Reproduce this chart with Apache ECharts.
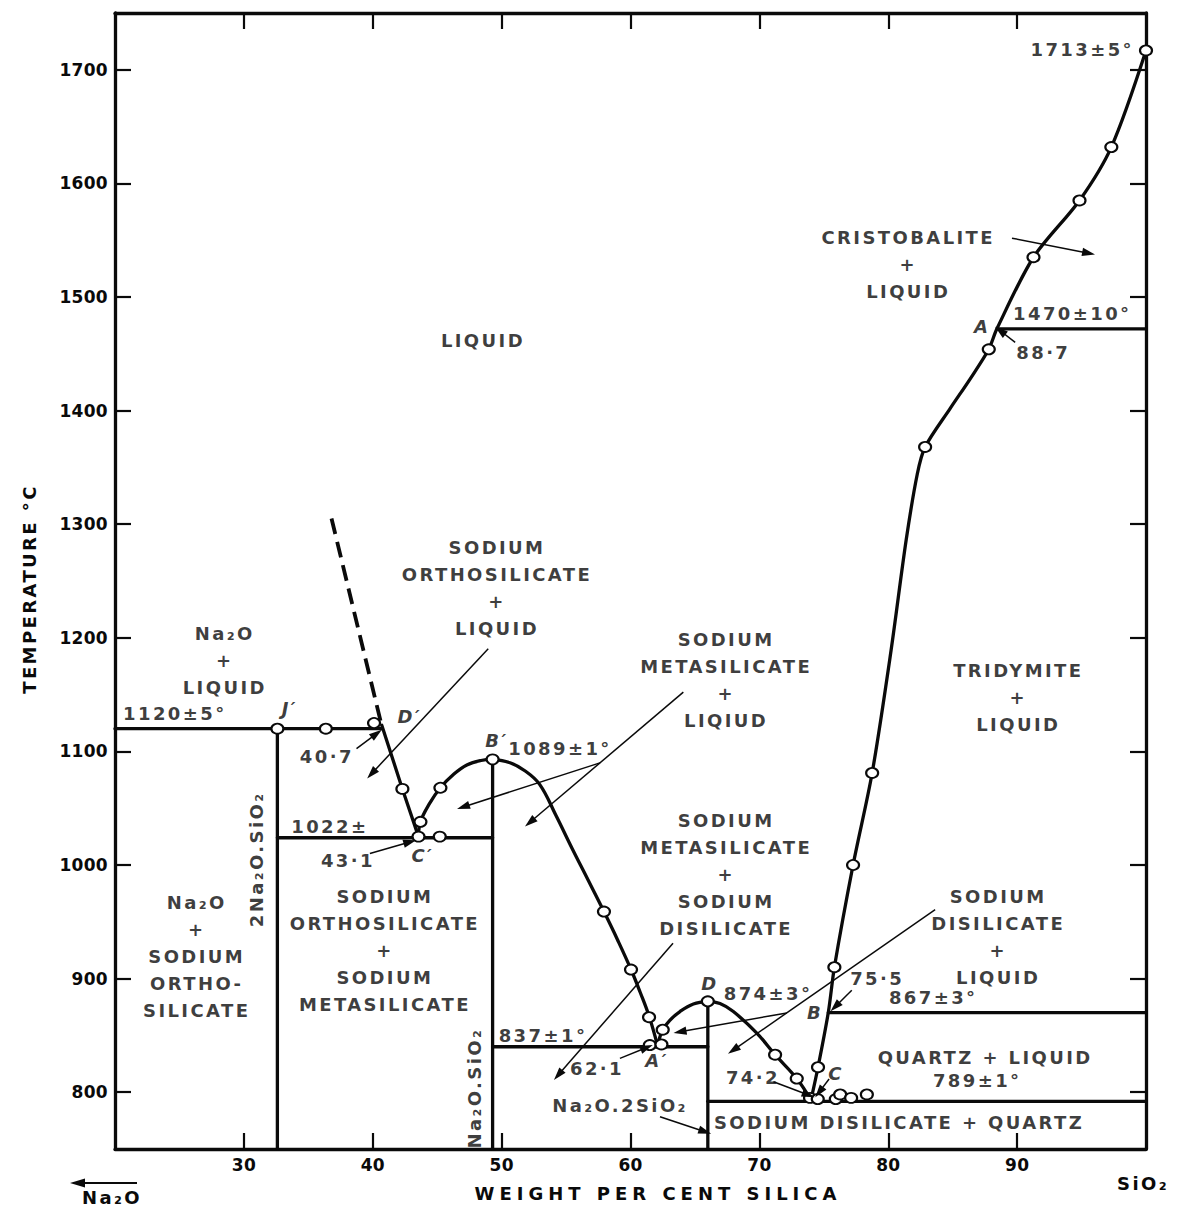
<!DOCTYPE html>
<html>
<head>
<meta charset="utf-8">
<script src="https://cdn.jsdelivr.net/npm/echarts@6/dist/echarts.min.js"></script>
<style>
html,body{margin:0;padding:0;background:#fff;}
#chart{width:1179px;height:1207px;}
</style>
</head>
<body>
<div id="chart"></div>
<script>
// ---------- axis ticks ----------
const xTicks = [30, 40, 50, 60, 70, 80, 90];
const yTicks = [800, 900, 1000, 1100, 1200, 1300, 1400, 1500, 1600, 1700];

// ---------- compound composition lines [wt% SiO2, °C] ----------
const orthosilicateLine = [[32.6, 750], [32.6, 1120]];
const metasilicateLine  = [[49.3, 750], [49.3, 1093]];
const disilicateLine    = [[66.0, 750], [66.0, 880]];

// ---------- isotherms ----------
const isotherm1120 = [[20, 1120], [40.7, 1120]];
const isotherm1022 = [[32.6, 1024], [49.3, 1024]];
const isotherm837  = [[49.3, 840], [66.0, 840]];
const isotherm867  = [[75.35, 870], [100, 870]];
const isotherm789  = [[66.0, 792], [100, 792]];
const isotherm1470 = [[88.45, 1472], [100, 1472]];

// ---------- liquidus curves ----------
const dashedLiquidus = [[36.8, 1305], [40.6, 1127]];
const orthoLiquidus = [[40.7, 1123], [42.3, 1067], [43.55, 1025]];
const metaLiquidusLow = [[43.55, 1025], [43.7, 1038], [44.4, 1054], [45.25, 1068], [46.3, 1080], [47.3, 1088], [48.4, 1092], [49.3, 1093]];
const metaLiquidusHigh = [[49.3, 1093], [50.65, 1090], [51.8, 1083], [52.95, 1071], [54.2, 1044], [55.45, 1015], [56.7, 987], [57.94, 959], [59.0, 934], [60.04, 908], [60.75, 888], [61.44, 867], [62.1, 841]];
const disilLiquidusLow = [[62.1, 841], [62.5, 855], [63.07, 863.5], [63.84, 871], [64.88, 877.6], [66.0, 880]];
const disilLiquidusHigh = [[66.0, 880], [66.94, 878], [67.98, 871], [69.8, 852], [71.22, 833], [72.9, 812], [74.0, 793]];
const silicaLiquidus = [[74.0, 793], [74.55, 822], [75.36, 871], [75.82, 910], [77.27, 1000], [78.75, 1081], [80.22, 1189], [81.39, 1286], [82.25, 1344], [82.86, 1368], [84.81, 1402], [86.36, 1428], [87.8, 1454], [88.43, 1472], [91.27, 1535], [94.84, 1585], [97.31, 1632], [100, 1717]];

// ---------- experimental points (open circles) ----------
const measuredPoints = [
  [32.6, 1120], [36.36, 1120], [40.1, 1125],
  [42.3, 1067], [43.55, 1025], [43.7, 1038], [45.2, 1025], [45.25, 1068], [49.3, 1093],
  [57.94, 959], [60.04, 908], [61.44, 866], [61.5, 841.5], [62.4, 842], [62.5, 855], [66.0, 880],
  [71.22, 833], [72.9, 812], [73.93, 795], [74.53, 794], [75.93, 794], [76.27, 798], [77.12, 795], [78.34, 798],
  [74.55, 822], [75.82, 910], [77.27, 1000], [78.75, 1081], [82.86, 1368], [87.8, 1454],
  [91.27, 1535], [94.84, 1585], [97.31, 1632], [100, 1717]
];

// ---------- leader arrows [fromX, fromT, toX, toT] ----------
const leaderArrows = [
  [38.74, 1102.4, 40.3, 1115.6],
  [39.78, 1010.1, 42.88, 1020.3],
  [48.96, 1190.4, 39.91, 1080.4],
  [64.1, 1152.2, 52.2, 1037.6],
  [57.63, 1089.9, 47.02, 1051.1],
  [63.3, 931.2, 54.39, 815.1],
  [59.18, 829.8, 61.26, 839.4],
  [83.64, 960.8, 67.98, 837.1],
  [72.13, 869.8, 63.84, 853.2],
  [77.17, 889.8, 75.88, 875.2],
  [71.09, 809.2, 73.81, 797.5],
  [75.41, 811.6, 74.64, 800.1],
  [62.29, 778.4, 65.78, 765.2],
  [89.85, 1460, 88.69, 1470.3],
  [89.6, 1551.8, 95.55, 1538.6]
];

// ---------- text annotations [x, T, text] ----------
const regionLabels = [
  [48.55, 1461.5, 'LIQUID'],
  [81.55, 1528.4, 'CRISTOBALITE\n+\nLIQUID'],
  [49.64, 1243.4, 'SODIUM\nORTHOSILICATE\n+\nLIQUID'],
  [28.52, 1180, 'Na₂O\n+\nLIQUID'],
  [67.42, 1162.5, 'SODIUM\nMETASILICATE\n+\nLIQIUD'],
  [26.34, 919.3, 'Na₂O\n+\nSODIUM\nORTHO-\nSILICATE'],
  [40.94, 925, 'SODIUM\nORTHOSILICATE\n+\nSODIUM\nMETASILICATE'],
  [67.42, 991.9, 'SODIUM\nMETASILICATE\n+\nSODIUM\nDISILICATE'],
  [90.09, 1147.1, 'TRIDYMITE\n+\nLIQUID'],
  [88.53, 936.9, 'SODIUM\nDISILICATE\n+\nLIQUID'],
  [87.52, 830.9, 'QUARTZ + LIQUID'],
  [80.84, 772.9, 'SODIUM DISILICATE + QUARTZ']
];
const valueLabels = [
  [24.64, 1133.5, '1120±5°'],
  [36.44, 1095.6, '40·7'],
  [54.53, 1102.7, '1089±1°'],
  [36.67, 1034.1, '1022±'],
  [38.07, 1004.2, '43·1'],
  [94.28, 1485.3, '1470±10°'],
  [92.03, 1451, '88·7'],
  [95.05, 1718.3, '1713±5°'],
  [83.49, 883.7, '867±3°'],
  [79.14, 900.4, '75·5'],
  [86.9, 810.7, '789±1°'],
  [69.5, 813.3, '74·2'],
  [70.67, 887.2, '874±3°'],
  [53.21, 850.3, '837±1°'],
  [57.4, 821.2, '62·1'],
  [59.19, 788.7, 'Na₂O.2SiO₂']
];
const pointLabels = [
  [33.56, 1137.9, 'J′'], [42.88, 1130.9, 'D′'], [49.64, 1109.7, 'B′'], [43.89, 1008.6, 'C′'],
  [87.29, 1473.8, 'A'], [74.32, 870.5, 'B'], [75.95, 816.8, 'C'], [66.17, 896, 'D'], [62.06, 828.3, 'A′']
];
const compoundLabels = [
  [31.0, 1005, '2Na₂O.SiO₂'],
  [47.93, 803.6, 'Na₂O.SiO₂']
];

// ---------- styling & assembly ----------
const INK = '#0a0a0a';
const FONT = 'DejaVu Sans';
const ARROW = 'path://M0,0M12,13M6,0L9.8,13L2.2,13Z';

function boundary(data, extra) {
  return Object.assign({
    type: 'line', data: data, symbol: 'none', silent: true, z: 2,
    lineStyle: { color: INK, width: 3.3, cap: 'round', join: 'round' }
  }, extra || {});
}
function textSeries(items, labelExtra) {
  return {
    type: 'scatter', silent: true, z: 6,
    symbol: 'circle', symbolSize: 1, itemStyle: { color: 'rgba(0,0,0,0)' },
    data: items.map(d => ({ value: [d[0], d[1]], name: d[2] })),
    label: Object.assign({
      show: true, position: 'inside', formatter: p => p.name,
      color: INK, fontFamily: FONT, fontWeight: 'bold', fontSize: 18, lineHeight: 27,
      align: 'center', verticalAlign: 'middle'
    }, labelExtra || {})
  };
}

const axisLineStyle = { show: true, onZero: false, lineStyle: { color: INK, width: 3.3 } };
const tickStyle = { show: true, inside: true, length: 16, lineStyle: { color: INK, width: 2.2 } };
const tickText = v => String(v);

const option = {
  animation: false,
  backgroundColor: '#ffffff',
  grid: { left: 115, right: 33, top: 13, bottom: 58, outerBoundsMode: 'none' },
  xAxis: [
    { type: 'value', min: 20, max: 100, position: 'bottom',
      axisLine: axisLineStyle, splitLine: { show: false },
      axisTick: Object.assign({ customValues: xTicks }, tickStyle),
      axisLabel: { customValues: xTicks, formatter: tickText, margin: 7, color: INK, fontFamily: FONT, fontWeight: 'bold', fontSize: 17 } },
    { type: 'value', min: 20, max: 100, position: 'top',
      axisLine: axisLineStyle, splitLine: { show: false },
      axisTick: Object.assign({ customValues: xTicks }, tickStyle),
      axisLabel: { show: false } }
  ],
  yAxis: [
    { type: 'value', min: 750, max: 1750, position: 'left',
      axisLine: axisLineStyle, splitLine: { show: false },
      axisTick: Object.assign({ customValues: yTicks }, tickStyle),
      axisLabel: { customValues: yTicks, formatter: tickText, margin: 7, color: INK, fontFamily: FONT, fontWeight: 'bold', fontSize: 17 } },
    { type: 'value', min: 750, max: 1750, position: 'right',
      axisLine: axisLineStyle, splitLine: { show: false },
      axisTick: Object.assign({ customValues: yTicks }, tickStyle),
      axisLabel: { show: false } }
  ],
  graphic: [
    { type: 'text', x: 29, y: 589, rotation: Math.PI / 2,
      style: { text: 'TEMPERATURE °C', fill: INK, fontFamily: FONT, fontWeight: 'bold', fontSize: 18, align: 'center', verticalAlign: 'middle' } },
    { type: 'text', x: 658, y: 1193,
      style: { text: 'WEIGHT PER CENT SILICA', fill: INK, fontFamily: FONT, fontWeight: 'bold', fontSize: 18, align: 'center', verticalAlign: 'middle' } },
    { type: 'text', x: 112, y: 1197,
      style: { text: 'Na₂O', fill: INK, fontFamily: FONT, fontWeight: 'bold', fontSize: 18, align: 'center', verticalAlign: 'middle' } },
    { type: 'text', x: 1143, y: 1183,
      style: { text: 'SiO₂', fill: INK, fontFamily: FONT, fontWeight: 'bold', fontSize: 18, align: 'center', verticalAlign: 'middle' } },
    { type: 'line', shape: { x1: 137, y1: 1183, x2: 80, y2: 1183 }, style: { stroke: INK, lineWidth: 1.8 } },
    { type: 'polygon', shape: { points: [[70, 1183], [85, 1178.5], [85, 1187.5]] }, style: { fill: INK } }
  ],
  series: [
    boundary(orthosilicateLine), boundary(metasilicateLine), boundary(disilicateLine),
    boundary(isotherm1120), boundary(isotherm1022), boundary(isotherm837),
    boundary(isotherm867), boundary(isotherm789), boundary(isotherm1470),
    boundary(dashedLiquidus, { lineStyle: { color: INK, width: 3.8, type: [16, 8], cap: 'butt' } }),
    boundary(orthoLiquidus),
    boundary(metaLiquidusLow, { smooth: 0.4 }),
    boundary(metaLiquidusHigh, { smooth: 0.4 }),
    boundary(disilLiquidusLow, { smooth: 0.4 }),
    boundary(disilLiquidusHigh, { smooth: 0.4 }),
    boundary(silicaLiquidus, { smooth: 0.3 }),
    {
      type: 'line', data: [[20, 750]], symbol: 'none', silent: true, z: 3,
      lineStyle: { width: 0, opacity: 0 },
      markLine: {
        silent: true, animation: false,
        symbol: ['none', ARROW], symbolSize: 13,
        lineStyle: { color: INK, width: 1.5, type: 'solid' },
        label: { show: false },
        emphasis: { disabled: true },
        data: leaderArrows.map(a => [{ coord: [a[0], a[1]] }, { coord: [a[2], a[3]] }])
      }
    },
    {
      type: 'scatter', data: measuredPoints, silent: true, z: 4,
      symbol: 'circle', symbolSize: [12, 10],
      itemStyle: { color: '#ffffff', opacity: 1, borderColor: INK, borderWidth: 2 }
    },
    textSeries(regionLabels),
    textSeries(valueLabels),
    textSeries(pointLabels, { fontStyle: 'italic' }),
    textSeries(compoundLabels, { rotate: 90 })
  ]
};

const chart = echarts.init(document.getElementById('chart'), null, { renderer: 'svg' });
chart.setOption(option);

function spacingFor(s) {
  if (/^\d+$/.test(s)) return 0.3;
  if (s === 'WEIGHT PER CENT SILICA') return 5;
  if (s === 'TEMPERATURE °C') return 2.4;
  return 2.4;
}
function applySpacing() {
  document.querySelectorAll('#chart svg text').forEach(t => {
    t.style.letterSpacing = spacingFor(t.textContent.trim()) + 'px';
  });
}
applySpacing();
chart.on('finished', applySpacing);
</script>
</body>
</html>
